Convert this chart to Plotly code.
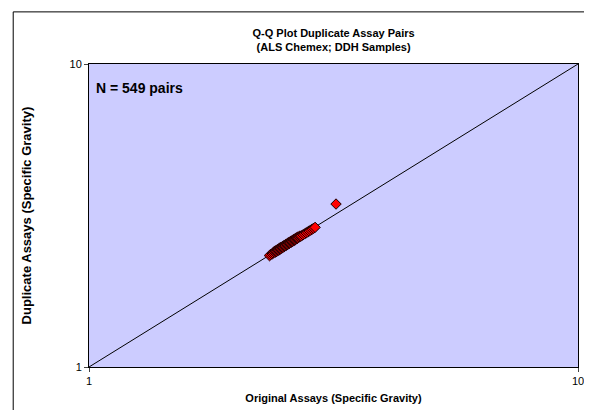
import plotly.graph_objects as go

# Q-Q quantile pairs (Specific Gravity)
original = [2.34, 2.35, 2.37, 2.38, 2.39,
            2.400, 2.405, 2.410, 2.415, 2.420, 2.425, 2.430, 2.435, 2.440, 2.445,
            2.450, 2.455, 2.460, 2.465, 2.470, 2.475, 2.480, 2.485, 2.490, 2.495,
            2.500, 2.505, 2.510, 2.515, 2.520, 2.525, 2.530, 2.535, 2.540, 2.545,
            2.550, 2.555, 2.560, 2.565, 2.570, 2.575, 2.580, 2.585, 2.590, 2.595,
            2.600, 2.605, 2.610, 2.615, 2.620, 2.625, 2.630, 2.635, 2.640, 2.645,
            2.650, 2.655, 2.660, 2.665, 2.670, 2.675, 2.680, 2.690, 2.700, 2.710,
            2.72, 2.74, 2.76, 2.78, 2.80, 2.82, 2.84, 2.86, 2.88, 2.90, 3.20]
duplicate = [2.33, 2.35, 2.36, 2.38, 2.40,
             2.390, 2.415, 2.400, 2.425, 2.410, 2.435, 2.420, 2.445, 2.430, 2.455,
             2.440, 2.465, 2.450, 2.475, 2.460, 2.485, 2.470, 2.495, 2.480, 2.505,
             2.490, 2.515, 2.500, 2.525, 2.510, 2.535, 2.520, 2.545, 2.530, 2.555,
             2.540, 2.565, 2.550, 2.575, 2.560, 2.585, 2.570, 2.595, 2.580, 2.605,
             2.590, 2.615, 2.600, 2.625, 2.610, 2.635, 2.620, 2.645, 2.630, 2.655,
             2.640, 2.665, 2.650, 2.675, 2.660, 2.685, 2.670, 2.690, 2.705, 2.700,
             2.71, 2.73, 2.75, 2.77, 2.79, 2.81, 2.83, 2.85, 2.87, 2.89, 3.45]
line_x = [1, 10]
line_y = [1, 10]
tick_vals = [1, 10]
tick_text = ["1", "10"]

fig = go.Figure()
fig.add_trace(go.Scatter(x=line_x, y=line_y, mode="lines",
                         line=dict(color="black", width=1), hoverinfo="skip",
                         showlegend=False))
fig.add_trace(go.Scatter(x=original, y=duplicate, mode="markers",
                         marker=dict(symbol="diamond", size=8, color="#FF0000",
                                     line=dict(color="#1a0000", width=1)),
                         showlegend=False))

font_main = "Liberation Sans, Arial, sans-serif"
fig.update_layout(
    width=592, height=410,
    margin=dict(l=81, r=22, t=56, b=51),
    paper_bgcolor="white", plot_bgcolor="#CCCCFF",
    font=dict(family=font_main, size=11, color="black"),
    title=dict(text="<b>Q-Q Plot Duplicate Assay Pairs<br>(ALS Chemex; DDH Samples)</b>",
               x=0.55, xanchor="center", y=0.93, yanchor="middle",
               font=dict(size=11, family=font_main)),
    xaxis=dict(type="log", range=[0, 1], tickvals=tick_vals, ticktext=tick_text,
               showgrid=False, zeroline=False, showline=True, linecolor="black",
               linewidth=1, mirror=True, ticks="outside", ticklen=4,
               tickfont=dict(size=11),
               title=dict(text="<b>Original Assays (Specific Gravity)</b>",
                          font=dict(size=11), standoff=8)),
    yaxis=dict(type="log", range=[0, 1], tickvals=tick_vals, ticktext=tick_text,
               showgrid=False, zeroline=False, showline=True, linecolor="black",
               linewidth=1, mirror=True, ticks="outside", ticklen=4,
               tickfont=dict(size=11)),
    annotations=[
        dict(text="<b>N = 549 pairs</b>", xref="paper", yref="paper",
             x=0.01, y=0.92, xanchor="left", yanchor="middle",
             showarrow=False, font=dict(size=14)),
        dict(text="<b>Duplicate Assays (Specific Gravity)</b>", xref="paper",
             yref="paper", x=-0.127, y=0.5, xanchor="center", yanchor="middle",
             textangle=-90, showarrow=False, font=dict(size=13)),
    ],
    shapes=[dict(type="rect", xref="paper", yref="paper",
                 x0=-0.155, x1=1.037, y0=-0.163, y1=1.172,
                 line=dict(color="black", width=1), layer="below")],
)

fig.write_html("out.html")
